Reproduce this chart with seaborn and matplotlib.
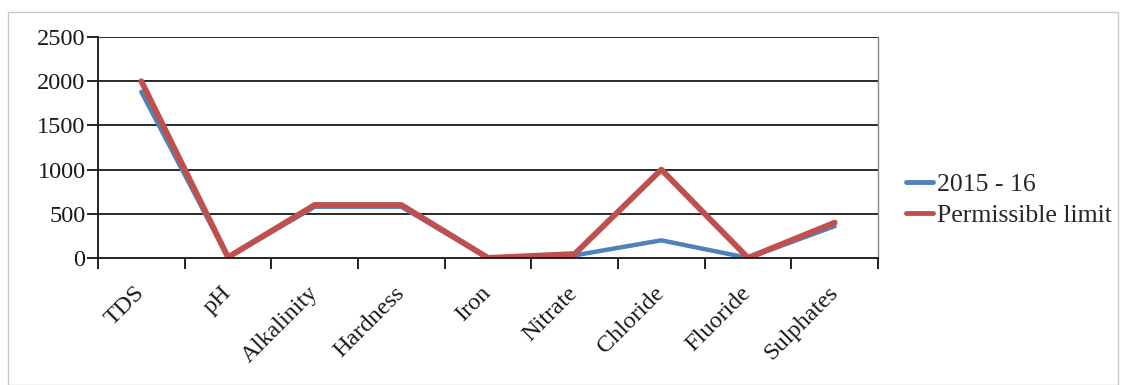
import matplotlib
matplotlib.use("Agg")
import matplotlib.pyplot as plt
from matplotlib.patches import Rectangle
from matplotlib.ticker import FixedLocator, NullFormatter
import seaborn as sns
import pandas as pd

# Water quality parameters and values
parameters = ["TDS", "pH", "Alkalinity", "Hardness", "Iron", "Nitrate",
              "Chloride", "Fluoride", "Sulphates"]
observed_2015_16 = [1880, 7.5, 580, 580, 0.3, 30, 200, 1.0, 360]
permissible_limit = [2000, 8.5, 600, 600, 1.0, 45, 1000, 1.5, 400]
series_names = ["2015 - 16", "Permissible limit"]
y_ticks = [0, 500, 1000, 1500, 2000, 2500]

df = pd.DataFrame({
    "Parameter": parameters * 2,
    "Value": observed_2015_16 + permissible_limit,
    "Series": [series_names[0]] * len(parameters) + [series_names[1]] * len(parameters),
})

sns.set_theme(style="white")
plt.rcParams["font.family"] = ["Liberation Serif", "DejaVu Serif"]

FS = 17.5
TXT = "#1a1a1a"

fig = plt.figure(figsize=(11.28, 3.85), dpi=100)
ax = fig.add_axes([98 / 1128, 1 - 258 / 385, 780 / 1128, 221 / 385])

palette = {series_names[0]: "#4F81BD", series_names[1]: "#C0504D"}
sns.lineplot(data=df, x="Parameter", y="Value", hue="Series", palette=palette,
             ax=ax, sort=False, legend=False)
ax.lines[0].set_linewidth(3.2)
ax.lines[1].set_linewidth(4.2)

ax.set_xlim(-0.5, len(parameters) - 0.5)
ax.set_ylim(0, 2500)
ax.set_yticks(y_ticks)
ax.set_yticklabels([str(v) for v in y_ticks], fontsize=FS, color=TXT)
ax.set_xticks(range(len(parameters)))
ax.set_xticklabels(parameters, rotation=45, ha="right", va="center",
                   rotation_mode="anchor", fontsize=FS, color=TXT)
ax.xaxis.set_minor_locator(FixedLocator([i - 0.5 for i in range(len(parameters) + 1)]))
ax.xaxis.set_minor_formatter(NullFormatter())
ax.tick_params(axis="x", which="major", length=0, pad=23)
ax.tick_params(axis="x", which="minor", bottom=True, length=8, width=1.4, color="#222222", direction="out")
ax.tick_params(axis="y", left=True, length=8, width=1.4, color="#222222", direction="out", pad=1)
ax.set_xlabel("")
ax.set_ylabel("")

for y in y_ticks[1:]:
    ax.axhline(y, color="#2a2a2a", linewidth=1.4, zorder=0)

ax.spines["top"].set_visible(False)
ax.spines["left"].set_color("#222222")
ax.spines["left"].set_linewidth(1.4)
ax.spines["bottom"].set_color("#222222")
ax.spines["bottom"].set_linewidth(1.4)
ax.spines["right"].set_color("#888888")
ax.spines["right"].set_linewidth(1.0)

handles = [plt.Line2D([], [], color=palette[s], linewidth=3.5) for s in series_names]
fig.legend(handles, series_names, loc="center left", bbox_to_anchor=(893 / 1128, 1 - 200 / 385),
           frameon=False, fontsize=18.5, handlelength=1.05, handletextpad=0.15,
           labelspacing=0.3, borderpad=0)

fig.patches.append(Rectangle((8 / 1128, 0), 1110 / 1128, 1 - 12 / 385, transform=fig.transFigure,
                             fill=False, edgecolor="#c8c8c8", linewidth=1.0))

fig.savefig("out.png", dpi=100)
